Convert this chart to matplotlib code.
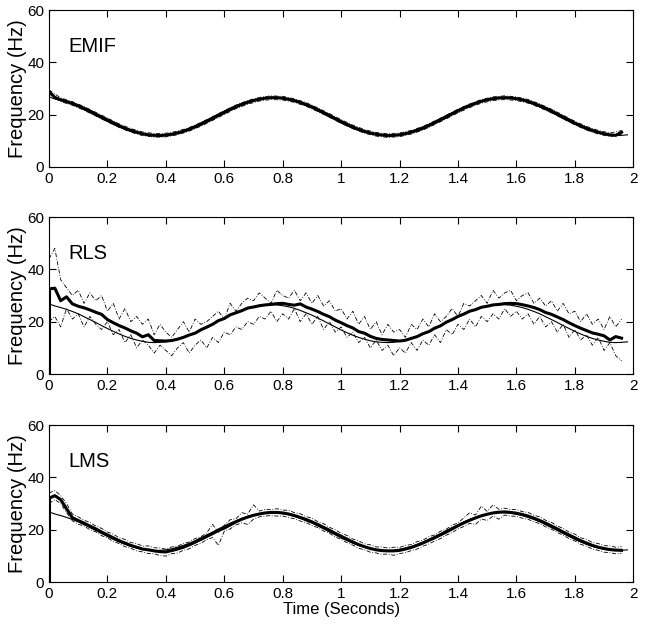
import numpy as np
import matplotlib
matplotlib.use("Agg")
import matplotlib.pyplot as plt
from matplotlib.ticker import FormatStrFormatter

plt.rcParams["font.family"] = ["Liberation Sans", "DejaVu Sans"]

# time grid (seconds), 0.02 s steps
t = np.arange(100) * 0.02
t_est = t[:99]
t_band = t[:99:2]

# true instantaneous frequency (thin line)
true_f = [26.8, 26.0, 25.4, 24.7, 23.9, 23.0, 21.9, 20.8, 19.7, 18.5,
          17.4, 16.3, 15.3, 14.4, 13.6, 13.0, 12.5, 12.1, 12.0, 12.1,
          12.3, 12.7, 13.3, 14.0, 14.8, 15.8, 16.9, 18.0, 19.1, 20.3,
          21.4, 22.5, 23.4, 24.3, 25.1, 25.7, 26.1, 26.4, 26.5, 26.4,
          26.1, 25.7, 25.1, 24.3, 23.4, 22.5, 21.4, 20.3, 19.1, 18.0,
          16.8, 15.8, 14.8, 14.0, 13.3, 12.7, 12.3, 12.1, 12.0, 12.1,
          12.5, 13.0, 13.6, 14.4, 15.3, 16.3, 17.4, 18.5, 19.7, 20.8,
          21.9, 23.0, 23.9, 24.7, 25.4, 25.9, 26.3, 26.5, 26.5, 26.3,
          25.9, 25.4, 24.7, 23.9, 23.0, 21.9, 20.8, 19.7, 18.5, 17.4,
          16.3, 15.3, 14.4, 13.6, 13.0, 12.5, 12.1, 12.0, 12.1, 12.3]

# EMIF estimate
emif_est = [28.8, 26.6, 25.7, 25.0, 24.3, 23.4, 22.4, 21.4, 20.2, 19.1,
            18.0, 16.9, 15.8, 14.8, 14.0, 13.3, 12.7, 12.3, 12.1, 12.0,
            12.2, 12.5, 13.0, 13.6, 14.4, 15.3, 16.3, 17.4, 18.5, 19.7,
            20.8, 21.9, 23.0, 23.9, 24.7, 25.4, 25.9, 26.3, 26.5, 26.5,
            26.3, 25.9, 25.4, 24.7, 23.9, 23.0, 21.9, 20.8, 19.7, 18.5,
            17.4, 16.3, 15.3, 14.4, 13.6, 13.0, 12.5, 12.2, 12.0, 12.1,
            12.3, 12.7, 13.3, 14.0, 14.8, 15.8, 16.9, 18.0, 19.1, 20.3,
            21.4, 22.5, 23.4, 24.3, 25.1, 25.7, 26.1, 26.4, 26.5, 26.4,
            26.1, 25.7, 25.1, 24.3, 23.4, 22.5, 21.4, 20.3, 19.1, 18.0,
            16.8, 15.8, 14.8, 14.0, 13.3, 12.7, 12.3, 12.1, 13.3]
emif_up = [29.5, 26.4, 25.0, 23.1, 20.9, 18.7, 16.5, 14.7, 13.4, 12.8,
           12.9, 13.7, 15.1, 17.0, 19.2, 21.5, 23.7, 25.4, 26.6, 27.2,
           27.0, 26.1, 24.6, 22.6, 20.4, 18.1, 16.0, 14.3, 13.2, 12.7,
           13.0, 14.0, 15.5, 17.6, 19.8, 22.1, 24.1, 25.8, 26.8, 27.2,
           26.8, 25.8, 24.1, 22.1, 19.8, 17.5, 15.5, 14.0, 13.0, 13.9]
emif_lo = [28.1, 25.0, 23.6, 21.7, 19.5, 17.3, 15.1, 13.3, 12.0, 11.4,
           11.5, 12.3, 13.7, 15.6, 17.8, 20.1, 22.3, 24.0, 25.2, 25.8,
           25.6, 24.7, 23.2, 21.2, 19.0, 16.7, 14.6, 12.9, 11.8, 11.3,
           11.6, 12.6, 14.1, 16.2, 18.4, 20.7, 22.7, 24.4, 25.4, 25.8,
           25.4, 24.4, 22.7, 20.7, 18.4, 16.1, 14.1, 12.6, 11.6, 12.5]

# RLS estimate and bounds
rls_est = [32.5, 32.8, 28.0, 29.5, 26.8, 25.9, 25.3, 24.5, 23.6, 22.8,
           20.8, 19.6, 18.5, 17.6, 16.5, 15.6, 14.2, 15.0, 12.8, 12.7,
           12.6, 12.8, 13.3, 14.0, 14.9, 15.6, 16.9, 17.9, 19.0, 20.4,
           21.2, 22.6, 23.4, 24.2, 25.2, 25.6, 26.1, 26.4, 26.6, 26.9,
           27.0, 26.6, 26.3, 26.8, 25.6, 24.8, 23.9, 22.8, 21.9, 20.6,
           19.6, 18.5, 17.6, 16.2, 15.6, 14.4, 13.6, 13.2, 13.0, 12.8,
           12.6, 12.9, 13.6, 14.3, 15.4, 16.2, 17.5, 18.4, 19.8, 20.8,
           22.0, 22.9, 24.0, 24.6, 25.5, 25.9, 26.4, 26.6, 26.9, 27.0,
           26.9, 26.5, 26.0, 25.4, 24.6, 23.5, 22.8, 21.8, 20.8, 19.6,
           18.5, 17.5, 16.6, 15.7, 15.2, 14.6, 13.0, 14.3, 13.7]
rls_up = [44, 48, 36, 33, 30, 32, 27, 31, 28, 30,
          24, 27, 21, 25, 20, 22, 19, 21, 15, 19,
          16, 14, 17, 20, 16, 21, 19, 20, 22, 24,
          21, 27, 24, 27, 29, 28, 31, 29, 27, 32,
          30, 29, 32, 28, 31, 27, 30, 26, 28, 24,
          25, 21, 24, 19, 22, 17, 20, 15, 19, 16,
          17, 14, 19, 17, 21, 18, 23, 20, 22, 25,
          22, 27, 26, 28, 30, 27, 32, 29, 31, 32,
          28, 30, 31, 27, 29, 26, 28, 24, 27, 23,
          24, 20, 23, 19, 21, 17, 22, 18, 21]
rls_lo = [20, 22, 18, 25, 21, 23, 18, 22, 19, 17,
          20, 15, 17, 12, 15, 10, 13, 11, 8, 11,
          9, 7, 10, 12, 8, 11, 13, 10, 14, 12,
          16, 15, 18, 17, 20, 19, 22, 21, 24, 20,
          23, 21, 25, 20, 23, 19, 22, 17, 20, 16,
          18, 14, 16, 12, 14, 10, 13, 9, 11, 7,
          10, 8, 12, 9, 13, 11, 15, 12, 17, 15,
          19, 17, 21, 18, 22, 20, 23, 21, 25, 22,
          24, 21, 23, 19, 22, 18, 20, 16, 19, 14,
          17, 13, 15, 11, 14, 9, 12, 7, 5]

# LMS estimate and bounds
lms_est = [32.0, 33.0, 31.5, 28.0, 24.6, 23.5, 22.5, 21.4, 20.3, 19.1,
           18.0, 16.9, 15.8, 14.9, 14.0, 13.3, 12.6, 12.3, 11.9, 11.6,
           11.5, 12.0, 12.6, 13.3, 14.2, 15.2, 16.3, 17.4, 18.5, 19.7,
           20.6, 21.8, 23.0, 24.0, 24.8, 25.5, 26.0, 26.4, 26.6, 26.6,
           26.4, 26.0, 25.4, 24.7, 23.9, 23.0, 22.0, 20.9, 19.8, 18.6,
           17.5, 16.4, 15.3, 14.3, 13.5, 12.8, 12.3, 12.0, 11.9, 11.9,
           12.1, 12.6, 13.2, 14.0, 14.9, 15.9, 16.9, 18.0, 19.1, 20.3,
           21.5, 22.6, 23.6, 24.5, 25.3, 25.9, 26.4, 26.7, 26.8, 26.6,
           26.3, 25.8, 25.2, 24.4, 23.5, 22.5, 21.4, 20.3, 19.1, 18.0,
           16.9, 15.8, 14.9, 14.0, 13.3, 12.8, 12.4, 12.2, 12.1]
lms_up = [34, 35, 33, 30, 26.0, 24.9, 23.6, 22.8, 21.4, 20.5,
          19.1, 18.3, 16.9, 16.3, 15.1, 14.7, 13.7, 13.8, 13.1, 13.0,
          12.6, 13.4, 13.7, 14.7, 15.3, 16.6, 17.3, 18.8, 22.0, 19.0,
          21.7, 23.8, 24.2, 26.5, 25.9, 29.5, 27.1, 27.8, 27.7, 28.0,
          27.5, 27.4, 26.5, 26.1, 25.0, 24.4, 23.1, 22.3, 20.9, 20.0,
          18.6, 17.8, 16.4, 15.7, 14.6, 14.2, 13.4, 13.4, 13.0, 13.3,
          13.2, 14.0, 14.3, 15.4, 16.0, 17.3, 18.0, 19.4, 20.2, 21.7,
          22.6, 24.5, 26.5, 25.6, 29.0, 27.0, 29.5, 27.8, 28.2, 27.7,
          27.7, 26.9, 26.6, 25.5, 24.9, 23.6, 22.8, 21.4, 20.5, 19.1,
          18.3, 16.9, 16.3, 15.1, 14.7, 13.9, 13.8, 13.3, 13.5]
lms_lo = [30, 31.5, 30, 26.5, 23.4, 22.1, 21.4, 20.0, 19.2, 17.7,
          16.9, 15.5, 14.7, 13.5, 12.9, 11.9, 11.5, 10.9, 10.8, 10.1,
          9.9, 10.8, 11.1, 12.1, 12.7, 14.0, 14.8, 16.2, 17.0, 14.0,
          19.4, 20.3, 21.8, 22.6, 22.0, 24.0, 24.9, 25.2, 25.4, 25.2,
          25.2, 24.6, 24.2, 23.3, 22.7, 21.6, 20.8, 19.5, 18.6, 17.2,
          16.3, 15.0, 14.1, 12.9, 12.3, 11.4, 11.1, 10.6, 10.7, 10.2,
          10.9, 11.2, 12.0, 12.6, 13.7, 14.5, 15.7, 16.6, 17.9, 18.9,
          20.3, 21.2, 22.4, 22.0, 24.1, 23.5, 25.2, 24.0, 25.6, 25.2,
          25.1, 24.4, 24.0, 23.0, 22.3, 21.1, 20.2, 18.9, 17.9, 16.6,
          15.7, 14.4, 13.7, 12.6, 12.1, 11.4, 11.2, 10.8, 11.0]

names = ["EMIF", "RLS", "LMS"]

fig = plt.figure(figsize=(6.55, 6.29), dpi=100)
bottoms = [0.7345, 0.4054, 0.0747]
dash = (0, (5, 2, 1, 2))


def panel(ax, name, est, up, lo, t_b, start):
    ax.plot(t, true_f, color="black", lw=0.8)
    ax.plot(t_b, up, color="black", lw=0.6, linestyle=dash)
    ax.plot(t_b, lo, color="black", lw=0.6, linestyle=dash)
    if start is not None:
        ax.plot([0, 0], [start, est[0]], color="black", lw=2.2)
    ax.plot(t_est, est, color="black", lw=2.2)
    ax.set_xlim(0, 2)
    ax.set_ylim(0, 60)
    ax.set_xticks(np.arange(0, 2.01, 0.2))
    ax.set_yticks([0, 20, 40, 60])
    ax.xaxis.set_major_formatter(FormatStrFormatter("%g"))
    ax.tick_params(direction="in", top=True, right=True, length=5,
                   labelsize=11, width=0.8)
    ax.set_ylabel("Frequency (Hz)", fontsize=14.5, labelpad=0)
    ax.text(0.033, 0.77, name, transform=ax.transAxes, fontsize=14.5,
            va="center", ha="left")


for i, name in enumerate(names):
    ax = fig.add_axes([0.0748, bottoms[i], 0.892, 0.2496])
    if name == "EMIF":
        panel(ax, name, emif_est, emif_up, emif_lo, t_band, None)
    elif name == "RLS":
        panel(ax, name, rls_est, rls_up, rls_lo, t_est, 0.0)
    else:
        panel(ax, name, lms_est, lms_up, lms_lo, t_est, 0.0)
    if name == "LMS":
        ax.set_xlabel("Time (Seconds)", fontsize=12, labelpad=1)

fig.savefig("out.png", dpi=100)
